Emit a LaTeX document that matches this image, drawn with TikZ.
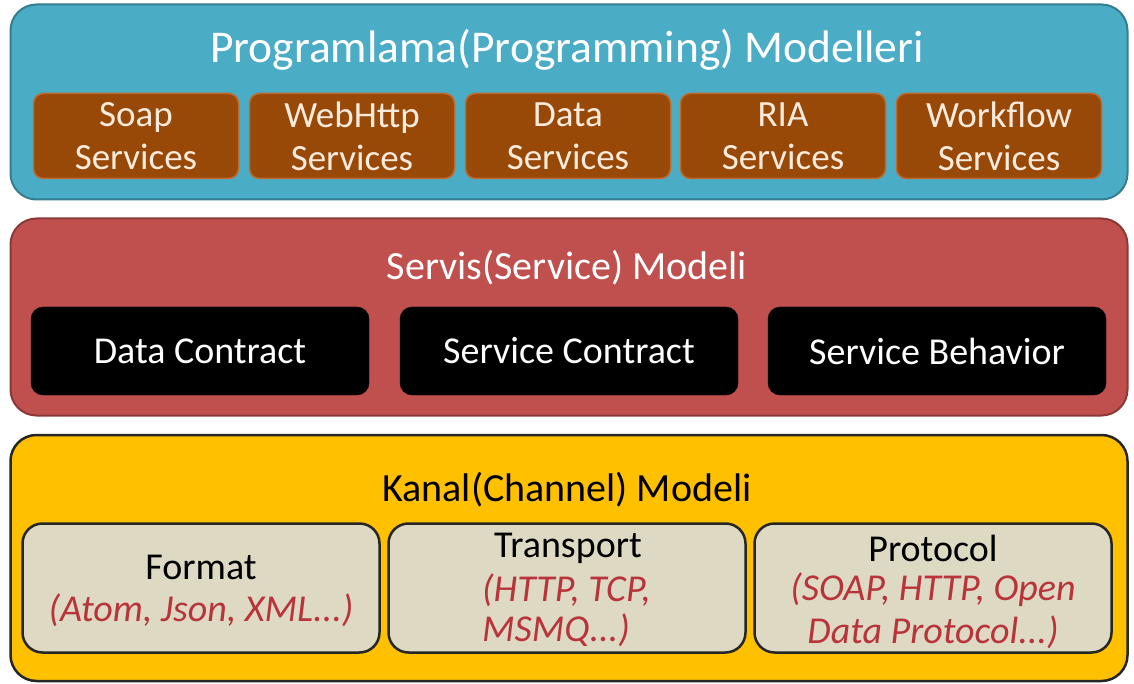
\documentclass[tikz,border=0pt]{standalone}
\usepackage{fontspec}
\setmainfont{Carlito}
\definecolor{bluebg}{HTML}{4BACC6}
\definecolor{blueln}{HTML}{357D91}
\definecolor{brownbg}{HTML}{984807}
\definecolor{brownln}{HTML}{C0692B}
\definecolor{creamtx}{HTML}{FBEBDD}
\definecolor{redbg}{HTML}{C0504D}
\definecolor{redln}{HTML}{8C3836}
\definecolor{yellowbg}{HTML}{FFC000}
\definecolor{darkln}{HTML}{262626}
\definecolor{graybg}{HTML}{DDD9C3}
\definecolor{redtx}{HTML}{B8333A}
\begin{document}
\begin{tikzpicture}[x=1pt,y=-1pt,
  layer/.style={rounded corners=26pt, line width=2pt, inner sep=0pt},
  brownbox/.style={draw=brownln, fill=brownbg, line width=1.5pt, rounded corners=10pt,
    minimum width=205pt, minimum height=85pt, text=creamtx, align=center,
    font=\fontsize{37}{43}\selectfont, inner sep=0pt},
  blackbox/.style={draw=black, fill=black, rounded corners=12pt,
    minimum width=338pt, minimum height=88pt, text=white,
    font=\fontsize{38}{44}\selectfont, inner sep=0pt},
  graybox/.style={draw=darkln, fill=graybg, line width=2.5pt, rounded corners=20pt,
    minimum width=357pt, minimum height=129pt, inner sep=0pt},
  boxtext/.style={font=\fontsize{38}{44}\selectfont, inner sep=0pt},
  redit/.style={boxtext, text=redtx, font=\fontsize{38}{44}\selectfont\itshape},
  layertitle/.style={inner sep=0pt}
]
\useasboundingbox (0,0) rectangle (1134,684);
\fill[white] (0,0) rectangle (1134,684);
% top layer
\node[layer, draw=blueln, fill=bluebg, minimum width=1117pt, minimum height=195pt] (prog) at (569,102) {};
\node[layertitle, text=white, font=\fontsize{45.5}{50}\selectfont] (progt) at (567,50) {Programlama(Programming) Modelleri};
\node[brownbox] (soap) at (136,136) {Soap\\Services};
\node[brownbox] (webhttp) at (352,136) {WebHttp\\Services};
\node[brownbox] (data) at (568,136) {Data\\Services};
\node[brownbox] (ria) at (783,136) {RIA\\Services};
\node[brownbox] (wf) at (999,136) {Workflow\\Services};
% middle layer
\node[layer, draw=redln, fill=redbg, minimum width=1117pt, minimum height=197pt] (serv) at (569,317) {};
\node[layertitle, text=white, font=\fontsize{40}{46}\selectfont] (servt) at (567,268) {Servis(Service) Modeli};
\node[blackbox] (dc) at (200,351) {Data Contract};
\node[blackbox] (sc) at (569,351) {Service Contract};
\node[blackbox] (sb) at (937,351) {Service Behavior};
% bottom layer
\node[layer, draw=darkln, fill=yellowbg, line width=2.5pt, minimum width=1117pt, minimum height=246pt] (kanal) at (569,558) {};
\node[layertitle, text=black, font=\fontsize{40}{46}\selectfont] (kanalt) at (567,490) {Kanal(Channel) Modeli};
\node[graybox] (fmt) at (201,588) {};
\node[graybox] (trn) at (567,588) {};
\node[graybox] (prt) at (933,588) {};
% format texts
\node[boxtext] (fmt1) at (201,567) {Format};
\node[redit] (fmt2) at (201,610) {(Atom, Json, XML...)};
% transport texts
\node[boxtext] (trn1) at (568,548) {Transport};
\node[redit, anchor=west] (trn2) at (482,590) {(HTTP, TCP,};
\node[redit, anchor=west] (trn3) at (482,630) {MSMQ...)};
% protocol texts
\node[boxtext] (prt1) at (933,548) {Protocol};
\node[redit] (prt2) at (933,590) {(SOAP, HTTP, Open};
\node[redit] (prt3) at (933,632) {Data Protocol...)};
\end{tikzpicture}
\end{document}
